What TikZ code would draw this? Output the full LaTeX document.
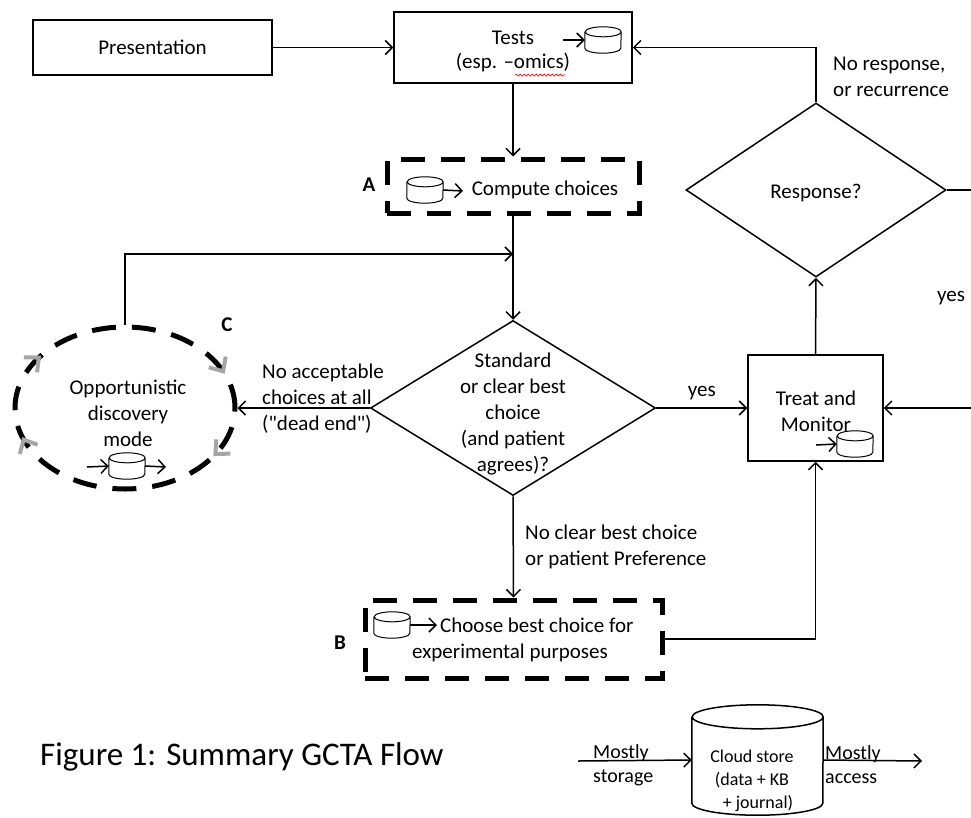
\documentclass[tikz,border=0pt]{standalone}
\usepackage{fontspec}
\setmainfont{Carlito}[Ligatures=TeXOff]
\usepackage{tikz}
\usetikzlibrary{shapes,arrows}
\usetikzlibrary{positioning}
\usetikzlibrary{calc}
\usetikzlibrary{decorations.markings,decorations.pathmorphing}
\usetikzlibrary{arrows.meta}
\tikzset{>=stealth}
\tikzstyle{line} = [draw, line width=1.5pt, -{Straight Barb[length=7pt,width=14pt,line width=1.5pt]}]
% outline of a data store drawn over a named node: name, x radius, y radius
\newcommand{\dbicon}[4][line width=1pt]{%
	\draw [#1, fill=white] ($(#2.north west)+(0,#4)$) -- ($(#2.south west)-(0,#4)$)
		arc [start angle=180, end angle=360, x radius=#3pt, y radius=#4pt]
		-- ($(#2.north east)+(0,#4)$)
		arc [start angle=0, end angle=360, x radius=#3pt, y radius=#4pt];}

\begin{document}
\begin{tikzpicture}[x=1pt, y=-1pt,
		every node/.style={font=\fontsize{21}{26}\selectfont},
		box/.style={draw, rectangle, line width=1.5pt, inner sep=0pt},
		dbox/.style={draw, rectangle, line width=5pt, dash pattern=on 24pt off 16pt, inner sep=0pt},
		choice/.style={draw, diamond, line width=1.5pt, inner sep=0pt},
		store/.style={rectangle, minimum width=36, minimum height=26, inner sep=0pt},
		tag/.style={font=\fontsize{21}{26}\selectfont\bfseries},
		txt/.style={align=left, inner sep=0pt},
		turn/.style={gray!70, line width=4pt}]
		\useasboundingbox (0,0) rectangle (971,817);
		%% Boxes
		\node [box, minimum width=239, minimum height=55] at (152.5,47.5) (pre) {Presentation};
		\node [box, minimum width=238, minimum height=71] at (513,47.5) (tst) {};
		\node [align=center, font=\fontsize{21}{24}\selectfont] at (513,51) (tsttxt) {Tests\\(esp. –omics)};
		\node [dbox, minimum width=252, minimum height=54] at (513,186) (cmp) {};
		\node at (545,190) (cmptxt) {Compute choices};
		\node [dbox, minimum width=297, minimum height=78] at (513.5,639) (bbx) {};
		\node [txt, anchor=west] at (412,640) (bbxtxt) {\hspace*{28pt}Choose best choice for\\experimental purposes};
		\node [box, minimum width=135, minimum height=106] at (815.5,408) (trt) {};
		\node [align=center] at (816,411) (trttxt) {Treat and\\Monitor};
		%% Decisions
		\node [choice, minimum width=285, minimum height=175] at (513,408) (std) {};
		\node [align=center] at (513,414) (stdtxt) {Standard\\or clear best\\choice\\(and patient\\agrees)?};
		\node [choice, minimum width=260, minimum height=174] at (816,190) (rsp) {};
		\node at (816,193) (rsptxt) {Response?};
		\node [draw, ellipse, line width=5pt, dash pattern=on 24pt off 16pt, minimum width=220, minimum height=162, inner sep=0pt] at (125,408) (odm) {};
		\node [align=center] at (128,413) (odmtxt) {Opportunistic\\discovery\\mode};
		\path [decorate, decoration={markings,
			mark=at position 0.09 with {\arrow[turn]{Straight Barb[length=11pt,width=20pt]}},
			mark=at position 0.45 with {\arrow[turn]{Straight Barb[length=11pt,width=20pt]}},
			mark=at position 0.6 with {\arrow[turn]{Straight Barb[length=11pt,width=20pt]}},
			mark=at position 0.94 with {\arrow[turn]{Straight Barb[length=11pt,width=20pt]}}}]
			(odm.center) ellipse [x radius=110, y radius=81];
		%% Stores
		\node [store] at (603,40) (tdb) {};
		\node [store] at (425,190) (cdb) {};
		\node [store] at (392,625) (bdb) {};
		\node [store] at (855,444) (mdb) {};
		\node [store] at (127,466) (odb) {};
		\foreach \s in {tdb,cdb,bdb,mdb,odb} {\dbicon{\s}{18}{5}}
		\coordinate (tdbin) at (563,40);
		\coordinate (cdbout) at (463,191);
		\coordinate (bdbout) at (437,625);
		\coordinate (mdbin) at (816,445);
		\coordinate (odbin) at (87,467);
		\coordinate (odbout) at (166,467);
		\draw [line] (tdbin) -- (tdb.west);
		\draw [line] (cdb.east) -- (cdbout);
		\draw [line] (bdb.east) -- (bdbout);
		\draw [line] (mdbin) -- (mdb.west);
		\draw [line] (odbin) -- (odb.west);
		\draw [line] (odb.east) -- (odbout);
		\draw [red, line width=0.7pt, decorate, decoration={snake, amplitude=1pt, segment length=4pt}] (515,75) -- (565,75);
		%% Tags
		\node [tag] at (369,185) (tagA) {A};
		\node [tag] at (340,643) (tagB) {B};
		\node [tag] at (227,325) (tagC) {C};
		%% Flows
		\coordinate (mrg) at (513,254);
		\coordinate (rgtout) at (971,190);
		\coordinate (rgtin) at (971,408);
		\path [line] (pre) -- (tst);
		\path [line] (tst) -- (cmp);
		\path [line] (cmp.south) -- (std.north);
		\path [line] (odm.north) |- (mrg);
		\path [line] (std.east) to node [midway, above=4pt] (yes1) {yes} (trt.west);
		\path [line] (std.west) -- (odm.east);
		\node [txt, anchor=west] at (262,399) (dead) {No acceptable\\choices at all\\("dead end")};
		\path [line] (std.south) -- (bbx.north);
		\node [txt, anchor=west] at (525,547) (noclr) {No clear best choice\\or patient Preference};
		\path [line] (bbx.east) -| (trt.south);
		\path [line] (trt.north) -- (rsp.south);
		\path [line] (rsp.north) |- (tst.east);
		\node [txt, anchor=west] at (833,77) (nores) {No response,\\or recurrence};
		\draw [line width=1.5pt] (rsp.east) -- (rgtout);
		\path [line] (rgtin) -- (trt.east);
		\node at (951,298) (yes2) {yes};
		%% Legend
		\node [anchor=west, inner sep=0pt, font=\fontsize{33}{40}\selectfont] at (40,757) (ttl) {Figure 1: Summary GCTA Flow};
		\node [store, minimum width=131, minimum height=110] at (757.5,760) (cld) {};
		\dbicon[line width=1.5pt]{cld}{65.5}{12}
		\node [align=center, font=\fontsize{18}{23}\selectfont] at (752,781) (cldtxt) {Cloud store\\(data + KB\\\hspace*{12pt}+ journal)};
		\coordinate (cldin) at (578,761);
		\coordinate (cldout) at (922,761);
		\path [line] (cldin) -- (cld.west);
		\path [line] (cld.east) -- (cldout);
		\node [txt, anchor=west, font=\fontsize{20}{24}\selectfont] at (593,765) (stor) {Mostly\\storage};
		\node [txt, anchor=west, font=\fontsize{20}{24}\selectfont] at (825,765) (accs) {Mostly\\access};
	\end{tikzpicture}
\end{document}
